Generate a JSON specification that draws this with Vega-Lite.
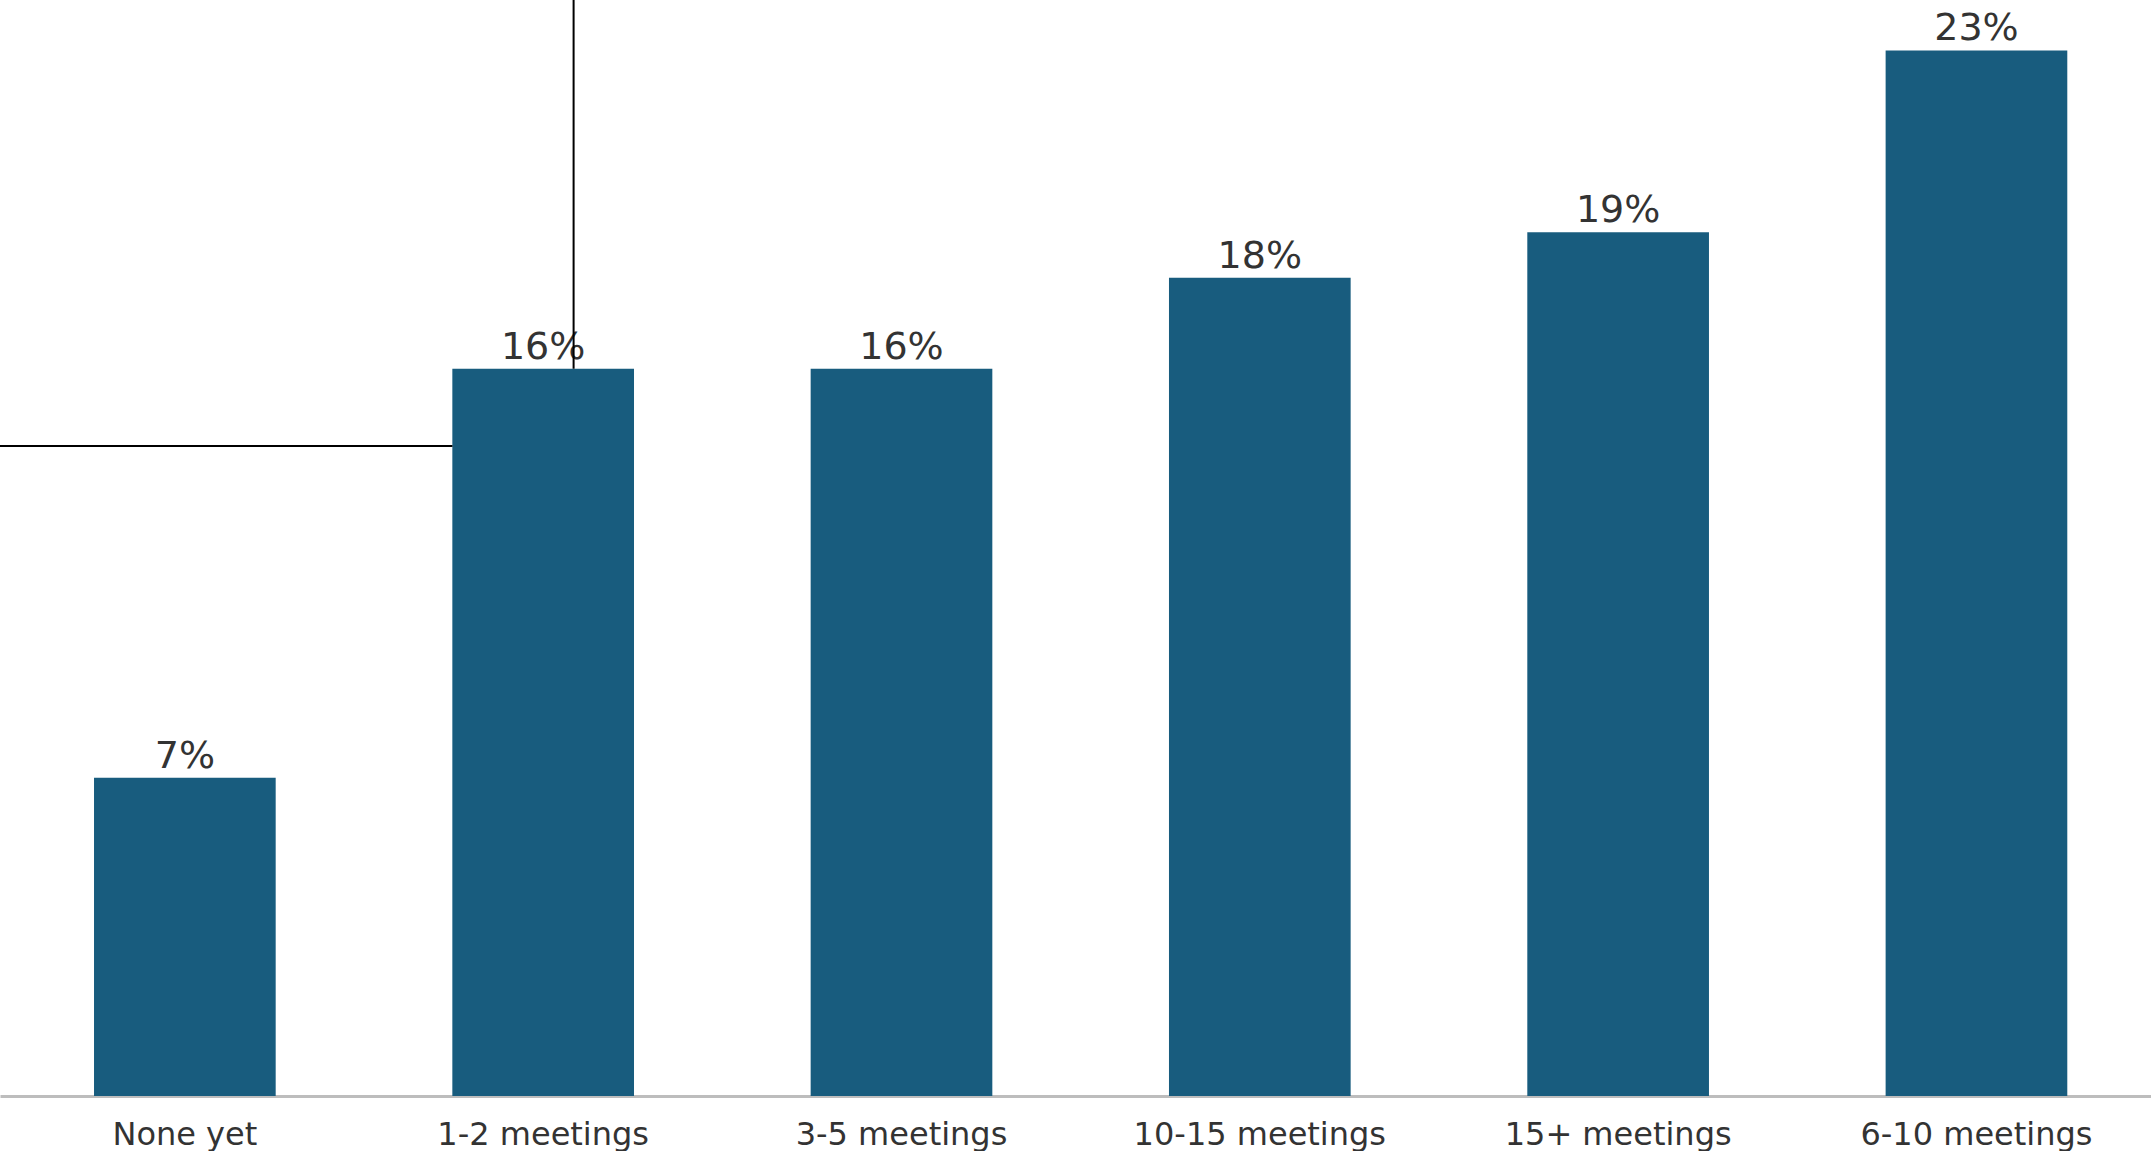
{
  "$schema": "https://vega.github.io/schema/vega-lite/v6.json",
  "width": 2151,
  "height": 1096,
  "autosize": {"type": "none"},
  "padding": {"left": 0, "top": 0, "right": 0, "bottom": 55},
  "background": "white",
  "config": {"view": {"stroke": null}},
  "datasets": {
    "bars": [
      {"category": "None yet", "value": 7},
      {"category": "1-2 meetings", "value": 16},
      {"category": "3-5 meetings", "value": 16},
      {"category": "10-15 meetings", "value": 18},
      {"category": "15+ meetings", "value": 19},
      {"category": "6-10 meetings", "value": 23}
    ],
    "lines": [
      {"x": 1.6, "x2": 1.6, "y": 16, "y2": 24.11},
      {"x": 0, "x2": 1.262, "y": 14.3, "y2": 14.3}
    ]
  },
  "layer": [
    {
      "data": {"name": "bars"},
      "encoding": {
        "x": {
          "field": "category",
          "type": "nominal",
          "sort": null,
          "scale": {"paddingInner": 0.493, "paddingOuter": 0.248, "align": 0.529},
          "axis": {
            "title": null,
            "labelAngle": 0,
            "ticks": false,
            "tickSize": 0,
            "labelPadding": 23,
            "labelLimit": 0,
            "labelFont": "DejaVu Sans",
            "labelFontSize": 32,
            "labelColor": "#333333",
            "domainColor": "#bdbdbd",
            "domainWidth": 3
          }
        },
        "y": {
          "field": "value",
          "type": "quantitative",
          "scale": {"domain": [0, 24.11], "nice": false, "zero": true},
          "axis": null
        }
      },
      "layer": [
        {"mark": {"type": "bar", "color": "#185c7e"}},
        {
          "mark": {
            "type": "text",
            "baseline": "alphabetic",
            "dy": -10,
            "font": "DejaVu Sans",
            "fontSize": 38,
            "color": "#333333",
            "text": {"expr": "datum.value + '%'"}
          }
        }
      ]
    },
    {
      "data": {"name": "lines"},
      "mark": {"type": "rule", "color": "black", "strokeWidth": 2},
      "encoding": {
        "x": {"field": "x", "type": "quantitative", "scale": {"domain": [0, 6], "nice": false, "zero": true}, "axis": null},
        "x2": {"field": "x2"},
        "y": {"field": "y", "type": "quantitative", "axis": null},
        "y2": {"field": "y2"}
      }
    }
  ],
  "resolve": {"scale": {"x": "independent"}}
}
